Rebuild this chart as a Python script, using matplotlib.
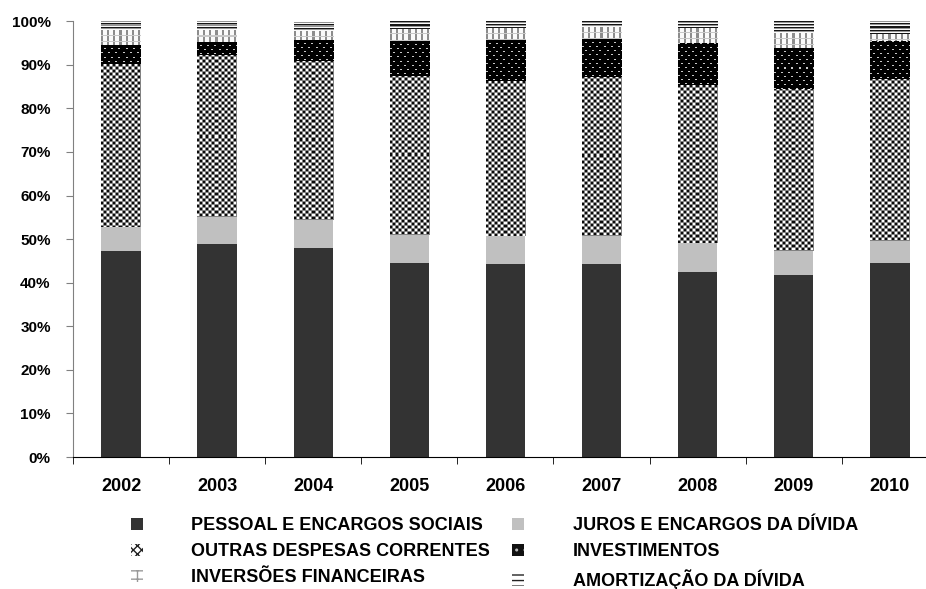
import numpy as np
import matplotlib.pyplot as plt
from matplotlib.patches import Patch
from matplotlib.ticker import FixedLocator, PercentFormatter

plt.rcParams['font.family'] = ['Liberation Sans', 'DejaVu Sans']
plt.rcParams['font.weight'] = 'bold'
plt.rcParams['hatch.linewidth'] = 1.0

years = ['2002', '2003', '2004', '2005', '2006', '2007', '2008', '2009', '2010']
pessoal = [47.2, 48.9, 47.9, 44.5, 44.3, 44.3, 42.4, 41.7, 44.5]
juros = [5.6, 6.1, 6.4, 6.4, 6.4, 6.4, 6.7, 5.5, 5.0]
outras = [37.3, 37.2, 36.5, 36.5, 35.5, 36.5, 36.2, 37.2, 37.2]
investimentos = [4.4, 3.1, 5.0, 8.1, 9.6, 8.8, 9.6, 9.5, 8.7]
inversoes = [3.4, 2.6, 2.0, 2.8, 2.7, 2.7, 3.6, 3.4, 1.6]
amortizacao = [2.1, 2.1, 2.1, 1.7, 1.5, 1.3, 1.5, 2.7, 3.0]

labels = ['PESSOAL E ENCARGOS SOCIAIS', 'JUROS E ENCARGOS DA DÍVIDA',
          'OUTRAS DESPESAS CORRENTES', 'INVESTIMENTOS',
          'INVERSÕES FINANCEIRAS', 'AMORTIZAÇÃO DA DÍVIDA']


# small pixel tiles used as fill textures (0 = black, 255 = white)
def tile_checker():
    i, j = np.mgrid[0:6, 0:6]
    t = np.where(((i // 3) + (j // 3)) % 2 == 0, 10.0, 255.0)
    t[(i % 3 == 2) | (j % 3 == 2)] = 130
    return t

def tile_dots():
    t = np.zeros((8, 7))
    t[0, 0:2] = 200
    t[4, 3:5] = 200
    return t

def tile_grid():
    t = np.full((6, 6), 250.0)
    t[:, 0:2] = 140
    t[5, :] = 200
    return t

def tile_lines():
    return np.array([[20], [150], [250]]) * np.ones((1, 6))

textures = {2: tile_checker(), 3: tile_dots(), 4: tile_grid(), 5: tile_lines()}

fig = plt.figure(figsize=(9.26, 5.89), dpi=100)
ax = fig.add_axes([0.0788, 0.224, 0.934, 0.740])
ax.set_xlim(-0.5, len(years) - 0.5)
ax.set_ylim(0, 100)

series = [pessoal, juros, outras, investimentos, inversoes, amortizacao]
solid = {0: '#333333', 1: '#c0c0c0'}
x = np.arange(len(years))
bottom = np.zeros(len(years))
all_rects = []
for i, vals in enumerate(series):
    vals = np.array(vals)
    if i in solid:
        rects = ax.bar(x, vals, 0.41, bottom=bottom, color=solid[i], linewidth=0)
    else:
        rects = ax.bar(x, vals, 0.41, bottom=bottom, facecolor='none', linewidth=0)
    all_rects.append(rects)
    bottom = bottom + vals

# paint textures into the bars, one pixel per tile cell
for i, rects in enumerate(all_rects):
    if i not in textures:
        continue
    t = textures[i]
    for r in rects:
        x0, y0 = r.get_x(), r.get_y()
        x1, y1 = x0 + r.get_width(), y0 + r.get_height()
        (px0, py0), (px1, py1) = ax.transData.transform([(x0, y0), (x1, y1)])
        nc = max(1, int(round(px1 - px0)))
        nr = max(1, int(round(py1 - py0)))
        reps = (nr // t.shape[0] + 2, nc // t.shape[1] + 2)
        img = np.tile(t, reps)[:nr, :nc]
        im = ax.imshow(img, cmap='gray', vmin=0, vmax=255, extent=(x0, x1, y0, y1),
                       aspect='auto', interpolation='nearest', zorder=2)
        im.set_clip_path(r)

ax.set_xlim(-0.5, len(years) - 0.5)
ax.set_ylim(0, 100)

ax.spines['top'].set_visible(False)
ax.spines['right'].set_visible(False)
ax.spines['left'].set_color('#808080')
ax.spines['bottom'].set_color('#000000')

ax.yaxis.set_major_locator(FixedLocator(np.arange(0, 101, 10)))
ax.yaxis.set_major_formatter(PercentFormatter(decimals=0))
ax.tick_params(axis='y', direction='out', length=5, color='#808080', labelsize=11, pad=11)

ax.set_xticks(x)
ax.set_xticklabels(years)
ax.tick_params(axis='x', length=0, labelsize=13, pad=15)
ax.xaxis.set_minor_locator(FixedLocator(np.arange(-0.5, len(years), 1.0)))
ax.tick_params(axis='x', which='minor', direction='out', length=5, color='#000000')
for lab in ax.get_xticklabels() + ax.get_yticklabels():
    lab.set_fontweight('bold')

handles = [
    Patch(facecolor='#333333', linewidth=0),
    Patch(facecolor='#c0c0c0', linewidth=0),
    Patch(facecolor='white', edgecolor='#222222', hatch='xxxx', linewidth=0),
    Patch(facecolor='#111111', edgecolor='#bbbbbb', hatch='..', linewidth=0),
    Patch(facecolor='white', edgecolor='#999999', hatch='++', linewidth=0),
    Patch(facecolor='white', edgecolor='#222222', hatch='---', linewidth=0),
]
order = [0, 2, 4, 1, 3, 5]
fig.legend([handles[k] for k in order], [labels[k] for k in order],
           ncol=2, loc='upper left', bbox_to_anchor=(0.141, 0.122),
           frameon=False, borderpad=0, borderaxespad=0,
           handlelength=0.67, handleheight=0.67, handletextpad=2.7,
           columnspacing=1.2, labelspacing=0.5,
           prop={'family': 'Liberation Sans', 'weight': 'bold', 'size': 13})

fig.savefig('out.png', dpi=100)
